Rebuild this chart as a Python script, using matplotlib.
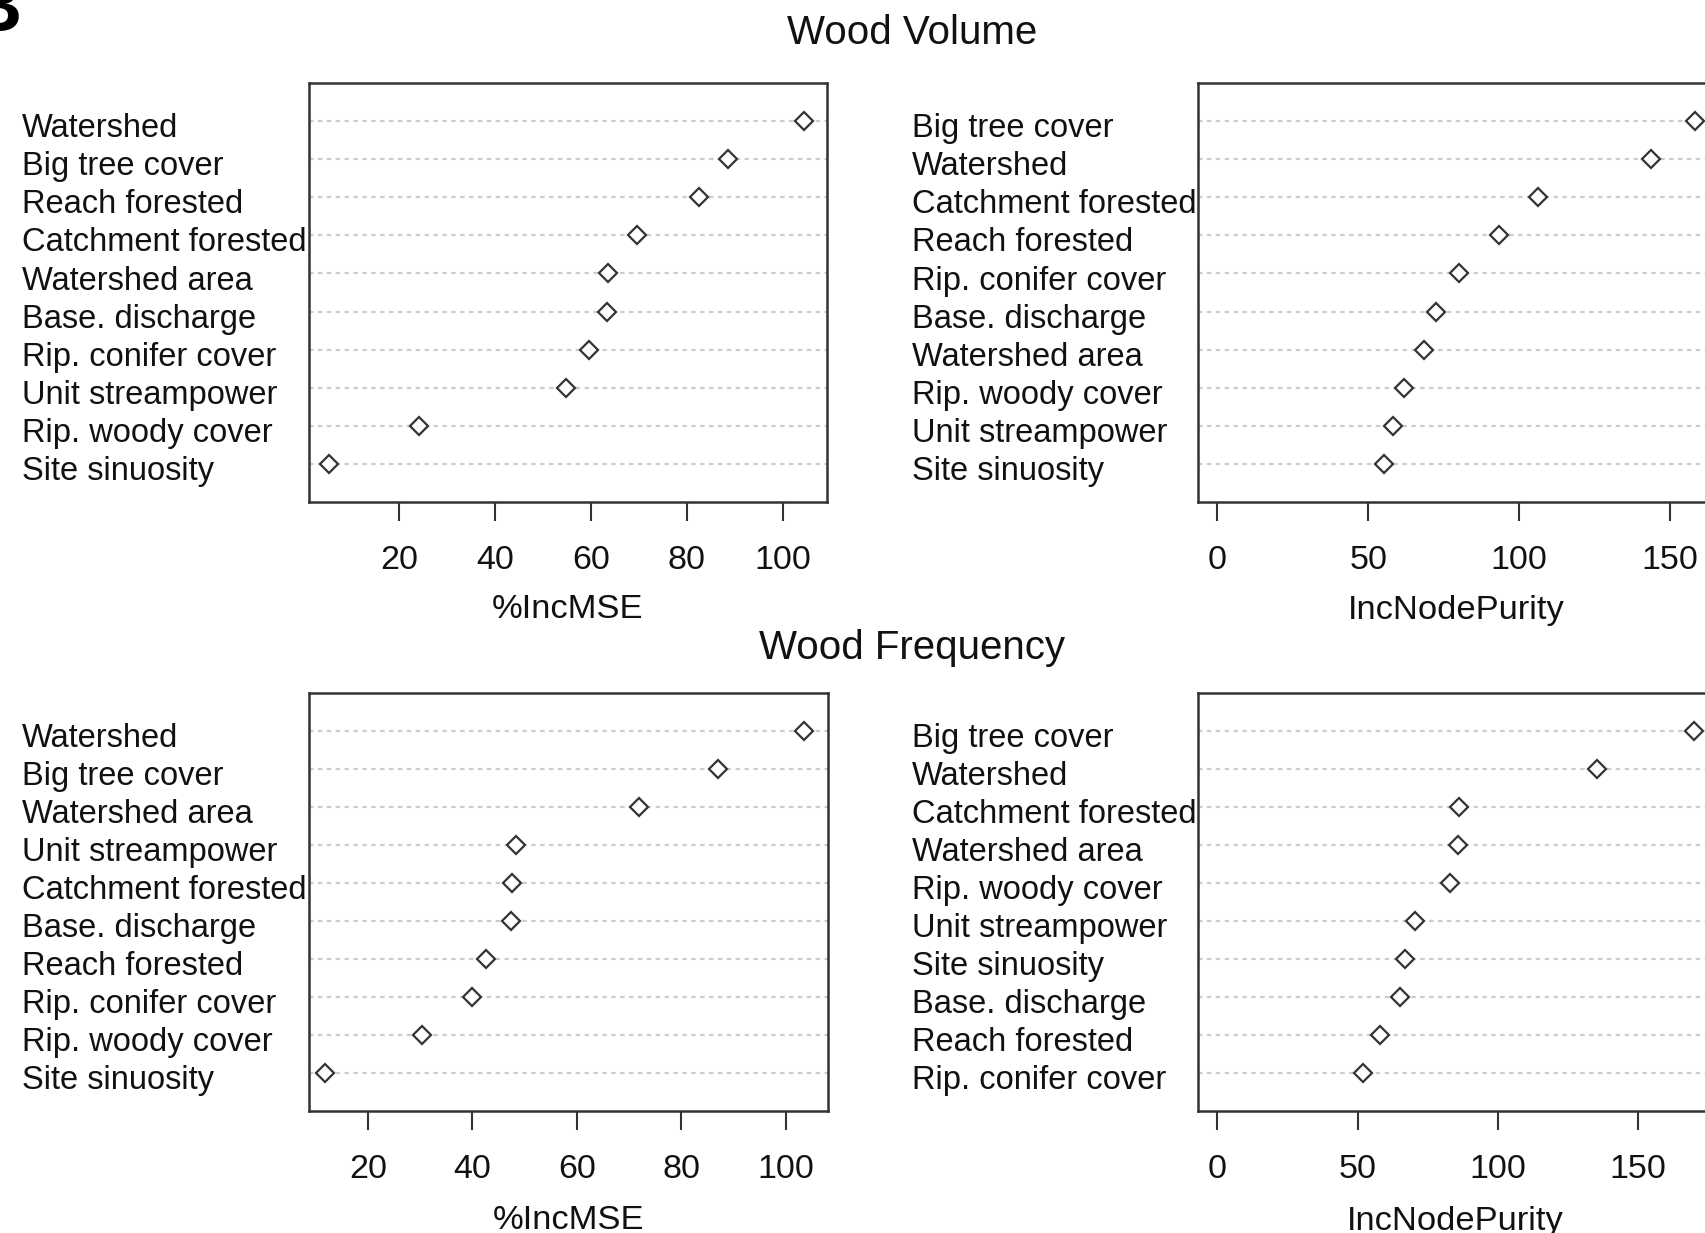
import matplotlib
matplotlib.use('Agg')
import matplotlib.pyplot as plt
import matplotlib.transforms as mtransforms

# variable importance, rows listed top to bottom
vol_mse_labels = ['Watershed', 'Big tree cover', 'Reach forested', 'Catchment forested',
                  'Watershed area', 'Base. discharge', 'Rip. conifer cover',
                  'Unit streampower', 'Rip. woody cover', 'Site sinuosity']
vol_mse = [104.4, 88.6, 82.5, 69.5, 63.6, 63.4, 59.5, 54.8, 24.2, 5.4]

vol_inp_labels = ['Big tree cover', 'Watershed', 'Catchment forested', 'Reach forested',
                  'Rip. conifer cover', 'Base. discharge', 'Watershed area',
                  'Rip. woody cover', 'Unit streampower', 'Site sinuosity']
vol_inp = [158.3, 143.9, 106.4, 93.4, 80.0, 72.4, 68.6, 62.0, 58.3, 55.1]

freq_mse_labels = ['Watershed', 'Big tree cover', 'Watershed area', 'Unit streampower',
                   'Catchment forested', 'Base. discharge', 'Reach forested',
                   'Rip. conifer cover', 'Rip. woody cover', 'Site sinuosity']
freq_mse = [103.5, 87.1, 72.0, 48.4, 47.7, 47.4, 42.6, 39.9, 30.4, 11.8]

freq_inp_labels = ['Big tree cover', 'Watershed', 'Catchment forested', 'Watershed area',
                   'Rip. woody cover', 'Unit streampower', 'Site sinuosity',
                   'Base. discharge', 'Reach forested', 'Rip. conifer cover']
freq_inp = [170.0, 135.4, 86.1, 85.8, 83.0, 70.4, 66.8, 65.0, 58.1, 51.9]

mse_ticks = [20, 40, 60, 80, 100]
inp_ticks = [0, 50, 100, 150]

W, H = 1706, 1233
plt.rcParams.update({'font.family': ['Liberation Sans', 'DejaVu Sans'],
                     'font.size': 23})
fig = plt.figure(figsize=(W / 100, H / 100), dpi=100)

FRAME = '#333333'
INK = '#111111'


def px(x0, y0, x1, y1):
    # pixel box (left, top, right, bottom) -> figure fraction rect
    return [x0 / W, 1 - y1 / H, (x1 - x0) / W, (y1 - y0) / H]


def dotpanel(rect, labels, vals, ticks, xlab, label_x, xlim, xlab_y):
    ax = fig.add_axes(rect)
    n = len(vals)
    ys = list(range(n, 0, -1))
    if xlim is None:
        # varImpPlot: purity axis starts at 0, R pads range by 4%
        pad = 0.04 * max(vals)
        xlim = (-pad, max(vals) + pad)
    ax.set_xlim(*xlim)
    ax.set_ylim(0, n + 1)
    for y in ys:
        ax.axhline(y, color='#cccccc', lw=1.6, ls=(0, (2, 2)), zorder=1)
    ax.plot(vals, ys, ls='none', marker='D', ms=9.5, mfc='white', mec='#333333',
            mew=1.6, zorder=3, clip_on=False)
    ax.set_yticks([])
    ax.set_xticks(ticks)
    ax.tick_params(axis='x', length=14, width=1.5, color=FRAME, pad=17,
                   labelsize=24.5, labelcolor=INK)
    for s in ax.spines.values():
        s.set_color(FRAME)
        s.set_linewidth(1.8)
    tr = mtransforms.blended_transform_factory(fig.transFigure, ax.transData)
    for lab, y in zip(labels, ys):
        ax.text(label_x / W, y - 0.2, lab, transform=tr, ha='left', va='center',
                fontsize=23.5, color=INK, clip_on=False)
    cx = rect[0] + rect[2] / 2
    fig.text(cx, 1 - xlab_y / H, xlab, ha='center', va='baseline',
             fontsize=24.8, color=INK)
    return ax


dotpanel(px(308.6, 83, 826.9, 502), vol_mse_labels, vol_mse, mse_ticks,
         '%IncMSE', 22, (1.1, 109.2), 618)
dotpanel(px(1198.3, 83, 1714, 502), vol_inp_labels, vol_inp, inp_ticks,
         'IncNodePurity', 912, None, 619)
dotpanel(px(308.6, 693, 827.6, 1111), freq_mse_labels, freq_mse, mse_ticks,
         '%IncMSE', 22, (8.65, 108.05), 1229)
dotpanel(px(1198.3, 693, 1713, 1111), freq_inp_labels, freq_inp, inp_ticks,
         'IncNodePurity', 912, None, 1230)

fig.text(912 / W, 1 - 43.5 / H, 'Wood Volume', ha='center', va='baseline',
         fontsize=29, color=INK)
fig.text(912 / W, 1 - 659 / H, 'Wood Frequency', ha='center', va='baseline',
         fontsize=29, color=INK)
# panel letter, mostly cropped away in the source figure
fig.text(22 / W, 1 - 31 / H, 'B', ha='right', va='baseline', fontsize=54,
         fontweight='bold', color='black')

fig.savefig('out.png', dpi=100)
